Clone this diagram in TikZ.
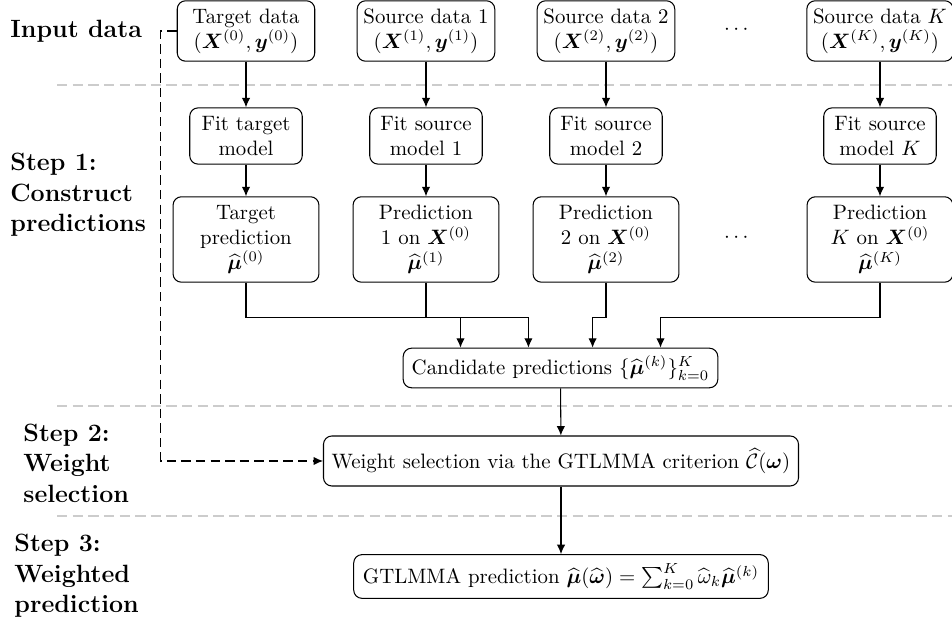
\documentclass[tikz,border=0pt]{standalone}
\usepackage{amsmath,amssymb,bm}
\usetikzlibrary{arrows.meta}
\begin{document}
\begin{tikzpicture}[x=0.48pt,y=-0.48pt,
 box/.style={draw, rounded corners=4pt, align=center, inner sep=3pt, line width=0.5pt},
 inbox/.style={box, minimum width=66pt, minimum height=29pt},
 fitbox/.style={box, minimum width=54pt, minimum height=27pt},
 predbox/.style={box, minimum width=70pt, minimum height=41pt},
 arr/.style={-{Latex[length=4.5pt,width=4pt]}, line width=0.5pt},
 darr/.style={arr, dash pattern=on 4.5pt off 2.5pt},
 sep/.style={gray!40, dash pattern=on 5pt off 2.5pt, line width=0.5pt},
 lbl/.style={font={\fontsize{12}{14.6}\selectfont\bfseries}, align=left, anchor=west, inner sep=0pt}]
\useasboundingbox (0,0) rectangle (952,626);

% separators
\draw[sep] (57,85) -- (952,85);
\draw[sep] (57,406) -- (952,406);
\draw[sep] (57,516) -- (952,516);

% left labels
\node[lbl] (l0) at (10,31) {Input data};
\node[lbl] (l1) at (10,195) {Step 1:\\Construct\\predictions};
\node[lbl] (l2) at (23,463) {Step 2:\\Weight\\selection};
\node[lbl] (l3) at (14,576) {Step 3:\\Weighted\\prediction};

% input row
\node[inbox] (t0) at (246,31) {Target data\\$(\bm{X}^{(0)},\bm{y}^{(0)})$};
\node[inbox] (s1) at (426,31) {Source data 1\\$(\bm{X}^{(1)},\bm{y}^{(1)})$};
\node[inbox] (s2) at (606,31) {Source data 2\\$(\bm{X}^{(2)},\bm{y}^{(2)})$};
\node (d1) at (738,30) {$\cdots$};
\node[inbox] (sK) at (880,31) {Source data $K$\\$(\bm{X}^{(K)},\bm{y}^{(K)})$};

% fit row
\node[fitbox] (f0) at (246,136) {Fit target\\model};
\node[fitbox] (f1) at (426,136) {Fit source\\model 1};
\node[fitbox] (f2) at (606,136) {Fit source\\model 2};
\node[fitbox] (fK) at (880,136) {Fit source\\model $K$};

% prediction row
\node[predbox] (p0) at (246,239.5) {Target\\prediction\\$\widehat{\bm{\mu}}^{(0)}$};
\node[predbox] (p1) at (426,239.5) {Prediction\\1 on $\bm{X}^{(0)}$\\$\widehat{\bm{\mu}}^{(1)}$};
\node[predbox] (p2) at (606,239.5) {Prediction\\2 on $\bm{X}^{(0)}$\\$\widehat{\bm{\mu}}^{(2)}$};
\node (d2) at (738,238) {$\cdots$};
\node[predbox] (pK) at (880,239.5) {Prediction\\$K$ on $\bm{X}^{(0)}$\\$\widehat{\bm{\mu}}^{(K)}$};

% lower boxes
\node[box, minimum width=151pt, minimum height=19pt] (cand) at (560.5,368) {Candidate predictions $\{\widehat{\bm{\mu}}^{(k)}\}_{k=0}^{K}$};
\node[box, minimum width=228pt, minimum height=24pt] (w) at (561,461) {Weight selection via the GTLMMA criterion $\widehat{\mathcal{C}}(\bm{\omega})$};
\node[box, minimum width=199pt, minimum height=21pt] (g) at (561,576.5) {GTLMMA prediction $\widehat{\bm{\mu}}(\widehat{\bm{\omega}})=\sum_{k=0}^{K}\widehat{\omega}_k\widehat{\bm{\mu}}^{(k)}$};

% vertical arrows
\foreach \a/\b in {t0/f0,s1/f1,s2/f2,sK/fK,f0/p0,f1/p1,f2/p2,fK/pK}
  \draw[arr] (\a) -- (\b);

% bus into candidate
\draw[arr] (p0.south) -- ++(0,35) -| ([xshift=-48pt]cand.north);
\draw[arr] (p1.south) -- ++(0,35) -| ([xshift=-15.4pt]cand.north);
\draw[arr] (p2.south) -- ++(0,35) -| ([xshift=15.4pt]cand.north);
\draw[arr] (pK.south) -- ++(0,35) -| ([xshift=48pt]cand.north);

\draw[arr] (cand) -- (w);
\draw[arr] (w) -- (g);

% dashed data path
\draw[darr] (t0.west) -- ++(-16,0) |- (w.west);
\end{tikzpicture}
\end{document}
